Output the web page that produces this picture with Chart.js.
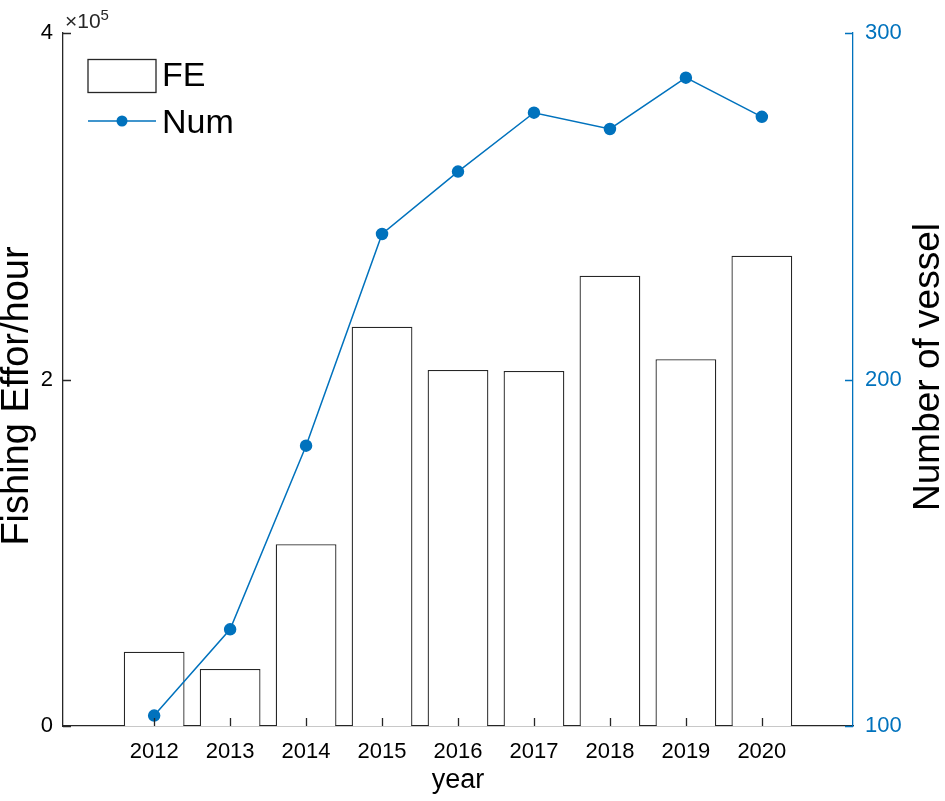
<!DOCTYPE html>
<html>
<head>
<meta charset="utf-8">
<script src="https://cdn.jsdelivr.net/npm/chart.js@4.4.0/dist/chart.umd.min.js"></script>
<style>
  html, body { margin: 0; padding: 0; background: #fff; }
  #chartBox { width: 945px; height: 801px; }
</style>
</head>
<body>
<div id="chartBox"><canvas id="feChart" width="945" height="801"></canvas></div>
<script>
// data
const years = [2012, 2013, 2014, 2015, 2016, 2017, 2018, 2019, 2020];
const fishingEffort = [42900, 32900, 104900, 230500, 205500, 204900, 259900, 211700, 271400];
const vesselNum = [103, 127.9, 180.9, 242, 260, 277, 272.3, 287.1, 275.8];
const leftTicks = [0, 200000, 400000];
const rightTicks = [100, 200, 300];
const leftTitle = "Fishing Effor/hour";
const rightTitle = "Number of vessel";

const BLUE = "#0072BD";
const INK = "#262626";
const FONT = "'Liberation Sans', Arial, Helvetica, sans-serif";

function rotatedText(ctx, text, x, y, size) {
  ctx.save();
  ctx.font = size + "px " + FONT;
  ctx.fillStyle = "#000";
  ctx.textAlign = "center";
  ctx.textBaseline = "middle";
  ctx.translate(x, y);
  ctx.rotate(-Math.PI / 2);
  ctx.fillText(text, 0, 0);
  ctx.restore();
}

// inward tick marks, x10^5 note, y titles, legend
const matlabBits = {
  id: "matlabBits",
  afterDraw(chart) {
    const ctx = chart.ctx;
    const a = chart.chartArea;
    const sx = chart.scales.x, sy = chart.scales.y, sy1 = chart.scales.y1;
    ctx.save();
    ctx.lineWidth = 1.3;

    // x ticks (point up)
    ctx.strokeStyle = INK;
    ctx.beginPath();
    years.forEach(v => {
      const px = Math.round(sx.getPixelForValue(v)) + 0.5;
      ctx.moveTo(px, a.bottom);
      ctx.lineTo(px, a.bottom - 8);
    });
    // left ticks (point right)
    leftTicks.forEach(v => {
      const py = Math.round(sy.getPixelForValue(v)) + 0.5;
      ctx.moveTo(a.left, py);
      ctx.lineTo(a.left + 8, py);
    });
    ctx.stroke();

    // right ticks (point left)
    ctx.strokeStyle = BLUE;
    ctx.beginPath();
    rightTicks.forEach(v => {
      const py = Math.round(sy1.getPixelForValue(v)) + 0.5;
      ctx.moveTo(a.right, py);
      ctx.lineTo(a.right - 8, py);
    });
    ctx.stroke();

    // x10^5 exponent
    ctx.fillStyle = INK;
    ctx.textBaseline = "alphabetic";
    ctx.textAlign = "left";
    ctx.font = "21px " + FONT;
    ctx.fillText("\u00d710", a.left + 2, 28);
    const w = ctx.measureText("\u00d710").width;
    ctx.font = "15px " + FONT;
    ctx.fillText("5", a.left + 2 + w, 20);

    // axis titles, both read bottom to top
    rotatedText(ctx, leftTitle, 18, 396, 38);
    rotatedText(ctx, rightTitle, 929, 367, 37);

    // legend
    const ds = chart.data.datasets;
    const barDs = ds.find(d => d.type === "bar");
    const lineDs = ds.find(d => d.type === "line");
    ctx.font = "34px " + FONT;
    ctx.textBaseline = "middle";
    ctx.textAlign = "left";
    ctx.strokeStyle = INK;
    ctx.lineWidth = 1.3;
    ctx.fillStyle = "#fff";
    ctx.fillRect(88, 59.5, 68, 33);
    ctx.strokeRect(88, 59.5, 68, 33);
    ctx.fillStyle = "#000";
    ctx.fillText(barDs.label, 162, 77);

    ctx.strokeStyle = BLUE;
    ctx.lineWidth = 1.5;
    ctx.beginPath();
    ctx.moveTo(88, 121);
    ctx.lineTo(156, 121);
    ctx.stroke();
    ctx.fillStyle = BLUE;
    ctx.beginPath();
    ctx.arc(122, 121, 5.5, 0, Math.PI * 2);
    ctx.fill();
    ctx.fillStyle = "#000";
    ctx.fillText(lineDs.label, 162, 124);

    ctx.restore();
  }
};

const ctx = document.getElementById("feChart").getContext("2d");
const chart = new Chart(ctx, {
  data: {
    datasets: [
      {
        type: "line",
        label: "Num",
        data: years.map((y, i) => ({ x: y, y: vesselNum[i] })),
        borderColor: BLUE,
        backgroundColor: BLUE,
        pointBackgroundColor: BLUE,
        pointBorderColor: BLUE,
        pointRadius: 5.5,
        borderWidth: 1.5,
        tension: 0,
        yAxisID: "y1",
        order: 0
      },
      {
        type: "bar",
        label: "FE",
        data: years.map((y, i) => ({ x: y, y: fishingEffort[i] })),
        backgroundColor: "#ffffff",
        borderColor: INK,
        borderWidth: 1.3,
        barPercentage: 0.8,
        categoryPercentage: 1.0,
        yAxisID: "y",
        order: 1
      }
    ]
  },
  options: {
    responsive: false,
    animation: false,
    events: [],
    layout: { padding: { top: 33, left: 0, right: 0, bottom: 0 } },
    plugins: {
      legend: { display: false },
      tooltip: { enabled: false }
    },
    scales: {
      x: {
        type: "linear",
        position: "bottom",
        offset: false,
        min: 2010.8,
        max: 2021.2,
        afterBuildTicks: s => { s.ticks = years.map(v => ({ value: v })); },
        afterFit: s => { s.height = 75; },
        grid: { display: false, drawTicks: false },
        border: { display: true, color: INK, width: 1.3 },
        ticks: {
          color: "#000",
          padding: 13,
          maxRotation: 0,
          font: { family: FONT, size: 22 },
          callback: v => String(v)
        },
        title: {
          display: true,
          text: "year",
          color: "#000",
          font: { family: FONT, size: 27 },
          padding: { top: 0, bottom: 4 }
        }
      },
      y: {
        position: "left",
        min: 0,
        max: 400000,
        afterBuildTicks: s => { s.ticks = leftTicks.map(v => ({ value: v })); },
        afterFit: s => { s.width = 63; },
        grid: { display: false, drawTicks: false },
        border: { display: true, color: INK, width: 1.3 },
        ticks: {
          color: "#000",
          padding: 10,
          font: { family: FONT, size: 22 },
          callback: v => String(v / 100000)
        }
      },
      y1: {
        position: "right",
        min: 100,
        max: 300,
        afterBuildTicks: s => { s.ticks = rightTicks.map(v => ({ value: v })); },
        afterFit: s => { s.width = 92; },
        grid: { display: false, drawTicks: false },
        border: { display: true, color: BLUE, width: 1.3 },
        ticks: {
          color: BLUE,
          padding: 12,
          font: { family: FONT, size: 22 },
          callback: v => String(v)
        }
      }
    }
  },
  plugins: [matlabBits]
});
</script>
</body>
</html>
